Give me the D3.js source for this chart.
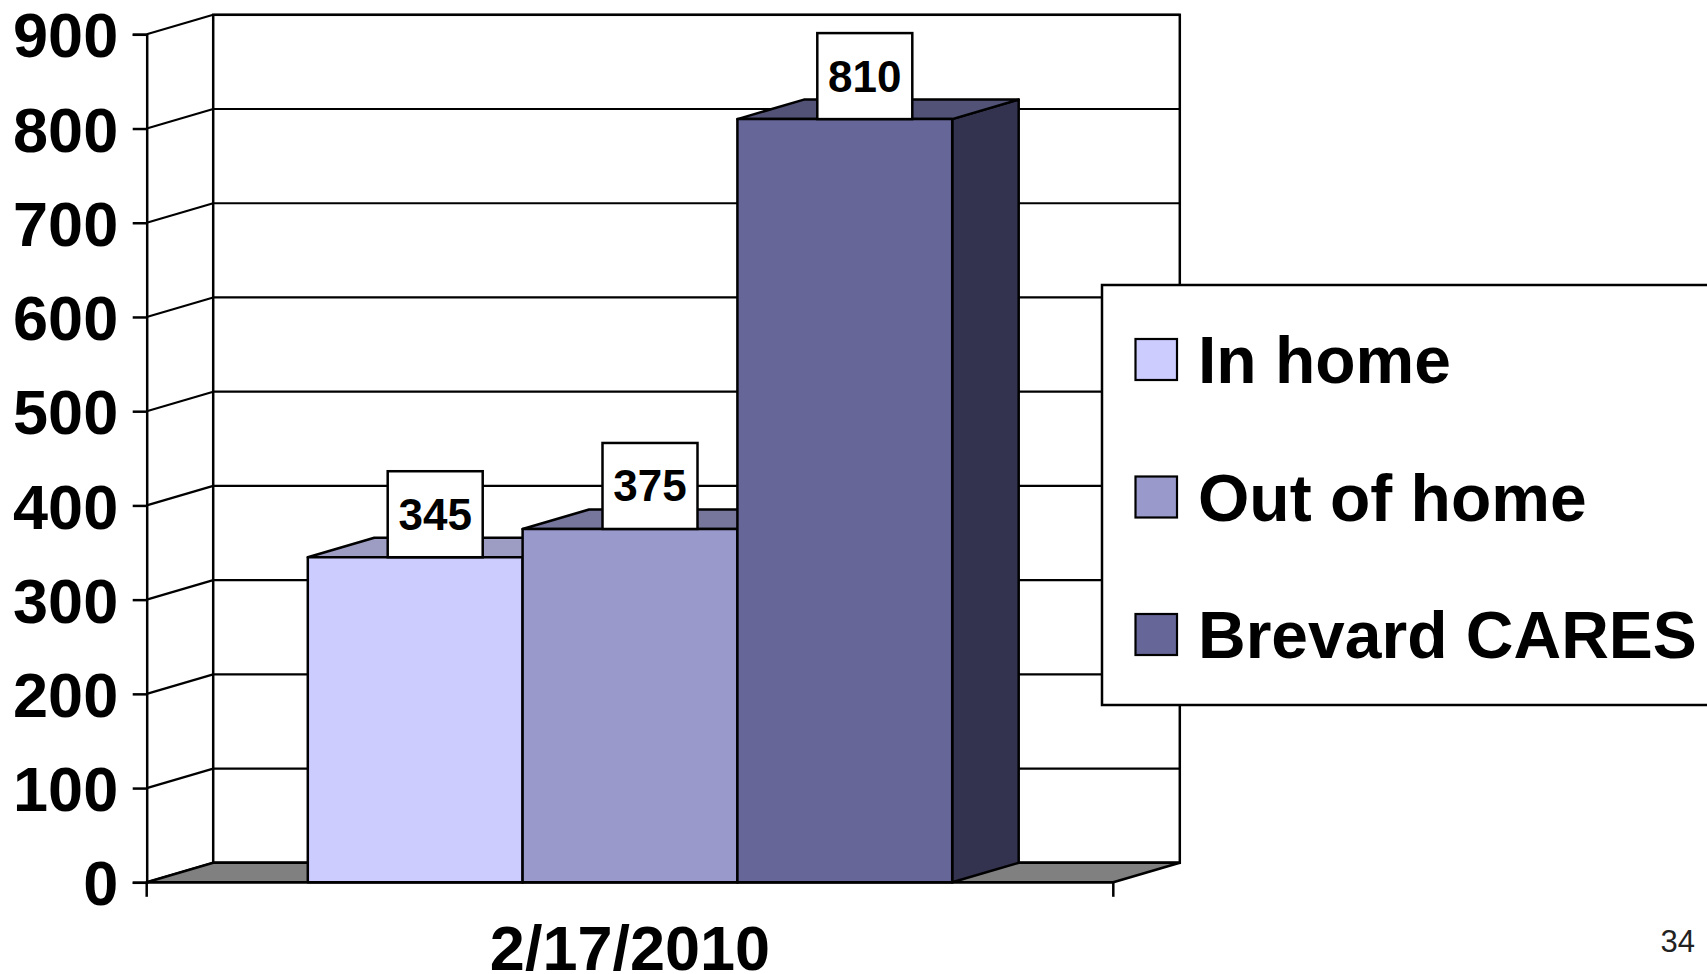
<!DOCTYPE html>
<html>
<head>
<meta charset="utf-8">
<script src="https://cdn.jsdelivr.net/npm/d3@7"></script>
<style>
  body { margin: 0; background: #fff; }
  svg { display: block; }
</style>
</head>
<body>
<svg id="chart"></svg>
<script>
// chart data
const categories = ['2/17/2010'];
const seriesNames = ['In home', 'Out of home', 'Brevard CARES'];
const seriesValues = [345, 375, 810];
const yTicks = [0, 100, 200, 300, 400, 500, 600, 700, 800, 900];
const pageNumber = '34';

const frontColors = ['#CCCCFF', '#9999CC', '#666699'];
const topColors = ['#9d9dc4', '#76769c', '#525277'];
const sideColors = ['#66667f', '#4c4c66', '#33334f'];

const width = 1707;
const height = 974;
const font = '"Liberation Sans", Arial, sans-serif';

// front plane of the plot and the 3D depth offset
const plotLeft = 146.7, plotRight = 1113.3;
const plotTop = 34.3, plotBottom = 882.3;
const dx = 66.5, dy = -19.5;
const stroke = '#000';

const svg = d3.select('#chart')
  .attr('width', width)
  .attr('height', height);

const yScale = d3.scaleLinear()
  .domain([0, 900])
  .range([plotBottom, plotTop]);

const xScale = d3.scaleBand()
  .domain(categories)
  .range([plotLeft, plotRight]);

const seriesScale = d3.scaleBand()
  .domain(seriesNames)
  .range([0, xScale.bandwidth()])
  .paddingInner(0)
  .paddingOuter(0.75);

const pts = p => p.map(d => d.join(',')).join(' ');

// side wall (left) and back wall
svg.append('polygon')
  .attr('points', pts([[plotLeft, yScale(900)], [plotLeft + dx, yScale(900) + dy],
    [plotLeft + dx, yScale(0) + dy], [plotLeft, yScale(0)]]))
  .attr('fill', '#fff');

svg.append('rect')
  .attr('x', plotLeft + dx)
  .attr('y', yScale(900) + dy)
  .attr('width', plotRight - plotLeft)
  .attr('height', yScale(0) - yScale(900))
  .attr('fill', '#fff')
  .attr('stroke', stroke)
  .attr('stroke-width', 2.5);

// gridlines: diagonal on side wall, horizontal on back wall
const grid = svg.append('g').attr('stroke', stroke).attr('stroke-width', 2.2).attr('fill', 'none');
grid.selectAll('.diag')
  .data(yTicks)
  .enter()
  .append('line')
  .attr('x1', plotLeft).attr('y1', d => yScale(d))
  .attr('x2', plotLeft + dx).attr('y2', d => yScale(d) + dy);
grid.selectAll('.back')
  .data(yTicks)
  .enter()
  .append('line')
  .attr('x1', plotLeft + dx).attr('y1', d => yScale(d) + dy)
  .attr('x2', plotRight + dx).attr('y2', d => yScale(d) + dy);

// floor
svg.append('polygon')
  .attr('points', pts([[plotLeft, yScale(0)], [plotRight, yScale(0)],
    [plotRight + dx, yScale(0) + dy], [plotLeft + dx, yScale(0) + dy]]))
  .attr('fill', '#808080')
  .attr('stroke', stroke)
  .attr('stroke-width', 2.5)
  .attr('stroke-linejoin', 'round');

// y axis
const yAxisGroup = svg.append('g')
  .attr('transform', 'translate(' + plotLeft + ',0)')
  .call(d3.axisLeft(yScale).tickValues(yTicks).tickSize(14).tickPadding(14.5));
yAxisGroup.select('.domain').attr('stroke', stroke).attr('stroke-width', 2.5);
yAxisGroup.selectAll('line').attr('stroke', stroke).attr('stroke-width', 2.5);
yAxisGroup.selectAll('text')
  .attr('fill', '#000')
  .attr('dy', '0.36em')
  .style('font-family', font)
  .style('font-size', '63px')
  .style('font-weight', 'bold');

// x axis
const xAxisGroup = svg.append('g')
  .attr('transform', 'translate(0,' + plotBottom + ')');
xAxisGroup.append('line')
  .attr('x1', plotLeft).attr('x2', plotRight)
  .attr('stroke', stroke).attr('stroke-width', 2.5);
xAxisGroup.selectAll('.xtick')
  .data([xScale.range()[0], xScale.range()[1]])
  .enter()
  .append('line')
  .attr('x1', d => d).attr('x2', d => d)
  .attr('y1', 0).attr('y2', 14.5)
  .attr('stroke', stroke).attr('stroke-width', 2.5);
xAxisGroup.selectAll('.xlabel')
  .data(categories)
  .enter()
  .append('text')
  .attr('x', d => xScale(d) + xScale.bandwidth() / 2)
  .attr('y', 87.5)
  .attr('text-anchor', 'middle')
  .style('font-family', font)
  .style('font-size', '63px')
  .style('font-weight', 'bold')
  .text(d => d);

// bars (one category, three series)
const bars = svg.append('g');
seriesNames.forEach((name, i) => {
  const x0 = xScale(categories[0]) + seriesScale(name);
  const x1 = x0 + seriesScale.bandwidth();
  const yTop = yScale(seriesValues[i]);
  const y0 = yScale(0);
  const g = bars.append('g')
    .attr('stroke', stroke)
    .attr('stroke-width', 2.5)
    .attr('stroke-linejoin', 'round');
  g.append('polygon')
    .attr('points', pts([[x1, yTop], [x1 + dx, yTop + dy], [x1 + dx, y0 + dy], [x1, y0]]))
    .attr('fill', sideColors[i]);
  g.append('polygon')
    .attr('points', pts([[x0, yTop], [x0 + dx, yTop + dy], [x1 + dx, yTop + dy], [x1, yTop]]))
    .attr('fill', topColors[i]);
  g.append('rect')
    .attr('x', x0).attr('y', yTop)
    .attr('width', x1 - x0).attr('height', y0 - yTop)
    .attr('fill', frontColors[i]);
});

// data labels
const labelW = 95, labelH = 86;
const labels = svg.append('g');
seriesNames.forEach((name, i) => {
  const cx = xScale(categories[0]) + seriesScale(name) + seriesScale.bandwidth() / 2 + 20;
  const yTop = yScale(seriesValues[i]);
  labels.append('rect')
    .attr('x', cx - labelW / 2)
    .attr('y', yTop - labelH)
    .attr('width', labelW)
    .attr('height', labelH)
    .attr('fill', '#fff')
    .attr('stroke', stroke)
    .attr('stroke-width', 2.5);
  labels.append('text')
    .attr('x', cx)
    .attr('y', yTop - labelH / 2 + 15.5)
    .attr('text-anchor', 'middle')
    .style('font-family', font)
    .style('font-size', '44px')
    .style('font-weight', 'bold')
    .text(seriesValues[i]);
});

// legend
const legend = svg.append('g');
legend.append('rect')
  .attr('x', 1102).attr('y', 285)
  .attr('width', 700).attr('height', 420)
  .attr('fill', '#fff')
  .attr('stroke', stroke)
  .attr('stroke-width', 2.5);
const legendRow = d3.scalePoint()
  .domain(seriesNames)
  .range([0, 275]);
seriesNames.forEach((name, i) => {
  const ly = 339 + legendRow(name);
  legend.append('rect')
    .attr('x', 1135.5).attr('y', ly)
    .attr('width', 41.5).attr('height', 41)
    .attr('fill', frontColors[i])
    .attr('stroke', stroke)
    .attr('stroke-width', 2.2);
  legend.append('text')
    .attr('x', 1198)
    .attr('y', ly + 44)
    .style('font-family', font)
    .style('font-size', '66px')
    .style('font-weight', 'bold')
    .text(name);
});

// slide number
svg.append('text')
  .attr('x', 1695)
  .attr('y', 951.7)
  .attr('text-anchor', 'end')
  .style('font-family', font)
  .style('font-size', '31px')
  .attr('fill', '#222')
  .text(pageNumber);
</script>
</body>
</html>
